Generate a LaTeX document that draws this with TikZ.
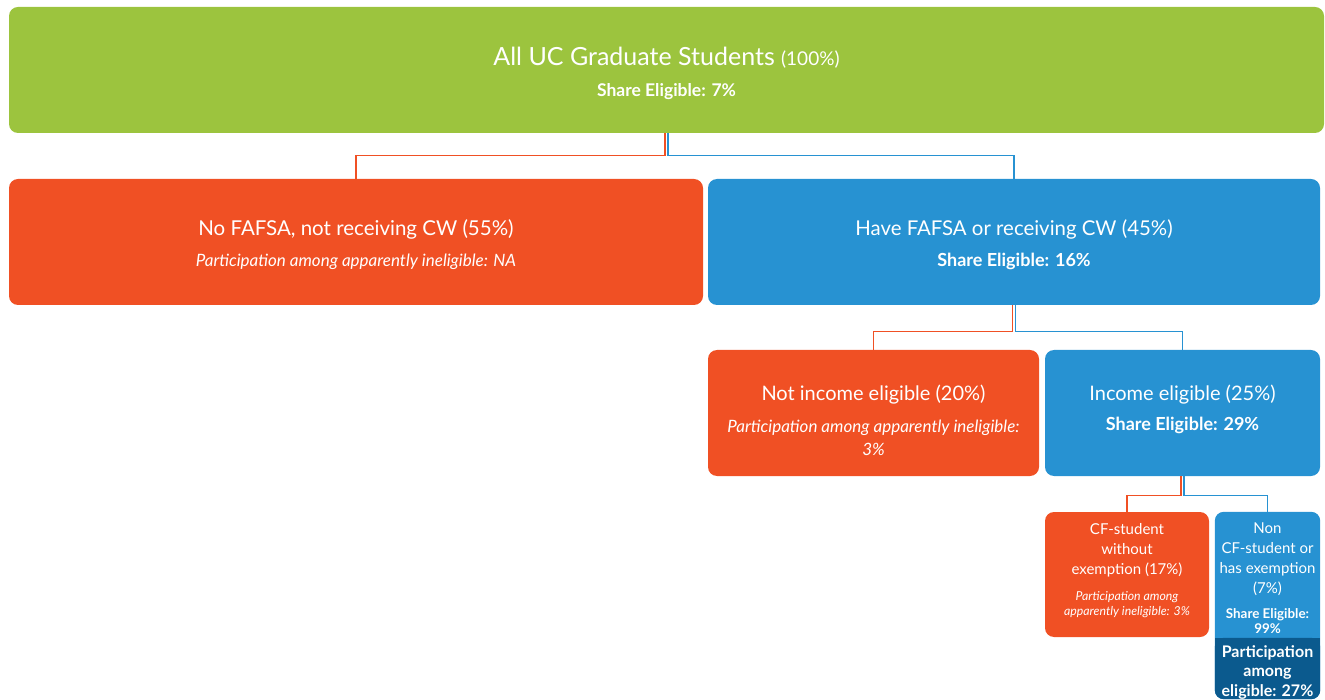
\documentclass[tikz,border=0pt]{standalone}
\usepackage{fontspec}
\setmainfont{Lato}
\usetikzlibrary{backgrounds}
\definecolor{ucgreen}{HTML}{9CC43E}
\definecolor{ucorange}{HTML}{F05024}
\definecolor{ucblue}{HTML}{2792D2}
\definecolor{ucdark}{HTML}{0B5A8E}
\newcommand{\fsz}[2]{\fontsize{#1}{#2}\selectfont}
\newcommand{\uprule}[1]{\rule{0pt}{#1}}
\newcommand{\dnrule}[1]{\rule[-#1]{0pt}{#1}}
\begin{document}
\begin{tikzpicture}[x=1pt,y=-1pt,
	box/.style={rounded corners=9pt,text=white,align=center,inner sep=0pt},
	gbox/.style={box,fill=ucgreen},
	obox/.style={box,fill=ucorange},
	bbox/.style={box,fill=ucblue},
	oline/.style={ucorange,line width=1.3pt},
	bline/.style={ucblue,line width=1.3pt}]
	\useasboundingbox (0,0) rectangle (1325,700);
	\node[gbox,minimum width=1315pt,minimum height=126pt,font=\fsz{25}{31}] (gradall) at (666.5,70)
		{\uprule{24.5pt}All UC Graduate Students {\fsz{19}{22}(100\%)}\\
		\fsz{17.5}{20}\bfseries Share Eligible: 7\%};
	\node[obox,minimum width=694pt,minimum height=126pt,font=\fsz{20.5}{31}] (nofafsa) at (356,242)
		{\uprule{21.5pt}No FAFSA, not receiving CW (55\%)\\
		\fsz{17}{20}\itshape Participation among apparently ineligible: NA};
	\node[bbox,minimum width=612pt,minimum height=126pt,font=\fsz{20.4}{31}] (fafsa) at (1014,242)
		{\uprule{21.5pt}Have FAFSA or receiving CW (45\%)\\
		\fsz{18}{20}\bfseries Share Eligible: 16\%};
	\node[obox,minimum width=331pt,minimum height=126pt,font=\fsz{20}{23}] (notinc) at (873.5,413)
		{\uprule{30pt}Not income eligible (20\%)\\[9pt]
		\fsz{17}{20}\itshape Participation among apparently ineligible:\\
		\fsz{17}{20}\itshape 3\%};
	\node[bbox,minimum width=275pt,minimum height=126pt,font=\fsz{20}{30}] (inc) at (1182.5,413)
		{Income eligible (25\%)\\
		\fsz{18}{20}\bfseries Share Eligible: 29\%\dnrule{9.6pt}};
	\node[obox,minimum width=164pt,minimum height=125pt,font=\fsz{15}{15}] (cfstud) at (1127,574.5)
		{CF-student\\[5pt] without\\[5pt] exemption (17\%)\\[11pt]
		\fsz{12.3}{15}\itshape Participation among\\ \fsz{12.3}{15}\itshape apparently ineligible: 3\%\dnrule{10.5pt}};
	\node[box,minimum width=105pt,minimum height=126pt,font=\fsz{15}{15}] (noncf) at (1267.5,575)
		{\uprule{18pt}Non\\[5pt] CF-student or\\[5pt] has exemption\\[5pt] (7\%)\\[10pt]
		\fsz{13.4}{15}\bfseries Share Eligible:\\ \fsz{13.4}{15}\bfseries 99\%};
	\node[box,minimum width=105pt,minimum height=61pt,font=\fsz{16}{19.5}\bfseries] (partic) at (1267.5,668.5)
		{\uprule{19pt}Participation\\ among\\ eligible: 27\%};
	\begin{scope}[on background layer]
		\fill[ucblue,rounded corners=9pt] (noncf.north west) rectangle (partic.south east);
		\fill[ucdark,rounded corners=9pt] (partic.north west) rectangle (partic.south east);
		\fill[ucdark] (partic.north west) rectangle (partic.east);
	\end{scope}
	% connectors
	\draw[oline] ([xshift=-1.5pt]gradall.south) -- ++(0,22) -| (nofafsa.north);
	\draw[bline] ([xshift=1.5pt]gradall.south) -- ++(0,22) -| (fafsa.north);
	\draw[oline] ([xshift=-1.5pt]fafsa.south) -- ++(0,26) -| (notinc.north);
	\draw[bline] ([xshift=1.5pt]fafsa.south) -- ++(0,26) -| (inc.north);
	\draw[oline] ([xshift=-1.5pt]inc.south) -- ++(0,19) -| (cfstud.north);
	\draw[bline] ([xshift=1.5pt]inc.south) -- ++(0,19) -| (noncf.north);
\end{tikzpicture}
\end{document}
